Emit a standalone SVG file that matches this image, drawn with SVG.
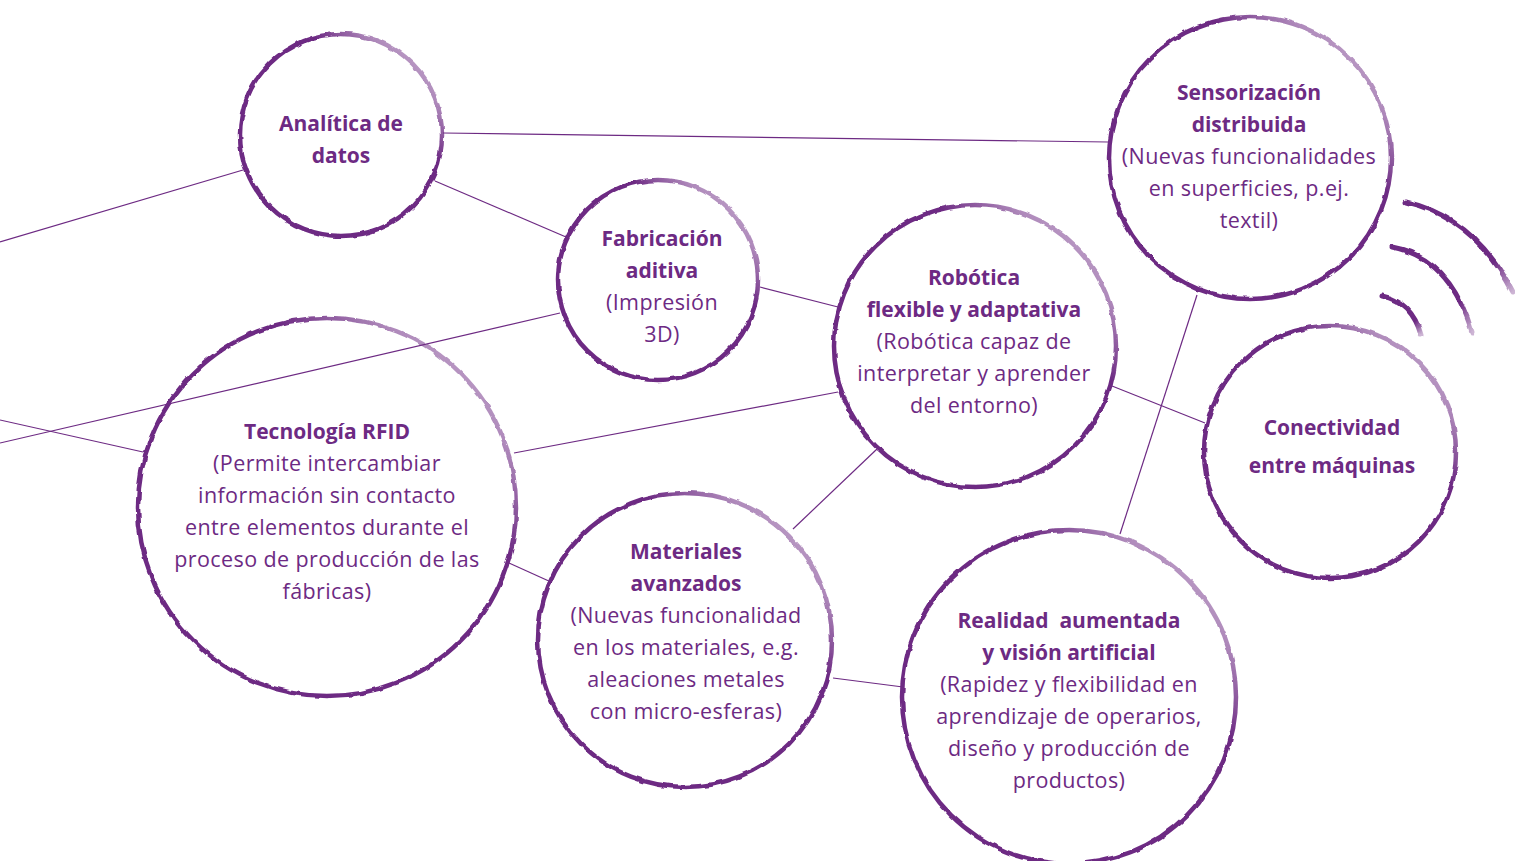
<svg xmlns="http://www.w3.org/2000/svg" width="1515" height="861" viewBox="0 0 1515 861">
<defs>
<linearGradient id="fade" x1="1" y1="0" x2="0" y2="1">
<stop offset="0" stop-color="#6d2a83" stop-opacity="0.3"/>
<stop offset="0.18" stop-color="#6d2a83" stop-opacity="0.55"/>
<stop offset="0.32" stop-color="#6d2a83" stop-opacity="1"/>
<stop offset="1" stop-color="#6d2a83" stop-opacity="1"/>
</linearGradient>
<linearGradient id="wfade" x1="0" y1="0" x2="1" y2="1">
<stop offset="0" stop-color="#6d2a83" stop-opacity="1"/>
<stop offset="0.75" stop-color="#6d2a83" stop-opacity="1"/>
<stop offset="1" stop-color="#6d2a83" stop-opacity="0.35"/>
</linearGradient>
<filter id="rough" x="-10%" y="-10%" width="120%" height="120%">
<feTurbulence type="fractalNoise" baseFrequency="0.09" numOctaves="2" seed="3" result="n"/>
<feDisplacementMap in="SourceGraphic" in2="n" scale="3.5" xChannelSelector="R" yChannelSelector="G"/>
</filter>
<style>
.ring{fill:#ffffff;stroke:url(#fade);stroke-width:4.5;filter:url(#rough)}
.conn line{stroke:#6d2a83;stroke-width:1.2}
text{font-family:"Open Sans","Liberation Sans",sans-serif;font-size:21.5px;letter-spacing:0.4px;fill:#6d2a83;text-anchor:middle}
.t{font-weight:bold;font-size:21px;letter-spacing:0}
.wave{fill:none;stroke:url(#wfade);stroke-width:5;stroke-linecap:round;filter:url(#rough)}
</style>
</defs>
<rect width="1515" height="861" fill="#ffffff"/>
<g id="connectors" class="conn">
<line x1="0" y1="242" x2="243" y2="170"/>
<line x1="443" y1="133" x2="1108" y2="142"/>
<line x1="435" y1="181" x2="566" y2="237"/>
<line x1="760" y1="287" x2="838" y2="307"/>
<line x1="0" y1="443" x2="560" y2="313"/>
<line x1="0" y1="420" x2="143" y2="452"/>
<line x1="514" y1="453" x2="838" y2="392"/>
<line x1="509" y1="563" x2="551" y2="582"/>
<line x1="793" y1="529" x2="877" y2="449"/>
<line x1="833" y1="678" x2="903" y2="687"/>
<line x1="1112" y1="386" x2="1205" y2="423"/>
<line x1="1197" y1="295" x2="1120" y2="534"/>
</g>
<g id="n-analitica">
<circle class="ring" cx="341" cy="135" r="101"/>
<text class="t" x="341" y="131">Analítica de</text>
<text class="t" x="341" y="163">datos</text>
</g>
<g id="n-fabricacion">
<circle class="ring" cx="658" cy="280" r="100"/>
<text class="t" x="662" y="246">Fabricación</text>
<text class="t" x="662" y="278">aditiva</text>
<text x="662" y="310">(Impresión</text>
<text x="662" y="342">3D)</text>
</g>
<g id="n-robotica">
<circle class="ring" cx="975" cy="346" r="141"/>
<text class="t" x="974" y="285">Robótica</text>
<text class="t" x="974" y="317">flexible y adaptativa</text>
<text x="974" y="349">(Robótica capaz de</text>
<text x="974" y="381">interpretar y aprender</text>
<text x="974" y="413">del entorno)</text>
</g>
<g id="n-sensorizacion">
<circle class="ring" cx="1250" cy="158" r="141"/>
<text class="t" x="1249" y="100">Sensorización</text>
<text class="t" x="1249" y="132">distribuida</text>
<text x="1249" y="164">(Nuevas funcionalidades</text>
<text x="1249" y="196">en superficies, p.ej.</text>
<text x="1249" y="228">textil)</text>
</g>
<g id="n-conectividad">
<circle class="ring" cx="1330" cy="452" r="126"/>
<text class="t" x="1332" y="435">Conectividad</text>
<text class="t" x="1332" y="473">entre máquinas</text>
<path class="wave" d="M1406,202 Q1475,218 1513,292"/>
<path class="wave" d="M1392,247 Q1450,258 1472,332"/>
<path class="wave" d="M1382,296 Q1412,302 1421,335"/>
</g>
<g id="n-rfid">
<circle class="ring" style="fill:none" cx="327" cy="507" r="189"/>
<text class="t" x="327" y="439">Tecnología RFID</text>
<text x="327" y="471">(Permite intercambiar</text>
<text x="327" y="503">información sin contacto</text>
<text x="327" y="535">entre elementos durante el</text>
<text x="327" y="567">proceso de producción de las</text>
<text x="327" y="599">fábricas)</text>
</g>
<g id="n-materiales">
<circle class="ring" cx="685" cy="640" r="147"/>
<text class="t" x="686" y="559">Materiales</text>
<text class="t" x="686" y="591">avanzados</text>
<text x="686" y="623">(Nuevas funcionalidad</text>
<text x="686" y="655">en los materiales, e.g.</text>
<text x="686" y="687">aleaciones metales</text>
<text x="686" y="719">con micro-esferas)</text>
</g>
<g id="n-realidad">
<circle class="ring" cx="1069" cy="697" r="167"/>
<text class="t" x="1069" y="628" xml:space="preserve">Realidad  aumentada</text>
<text class="t" x="1069" y="660">y visión artificial</text>
<text x="1069" y="692">(Rapidez y flexibilidad en</text>
<text x="1069" y="724">aprendizaje de operarios,</text>
<text x="1069" y="756">diseño y producción de</text>
<text x="1069" y="788">productos)</text>
</g>
</svg>
